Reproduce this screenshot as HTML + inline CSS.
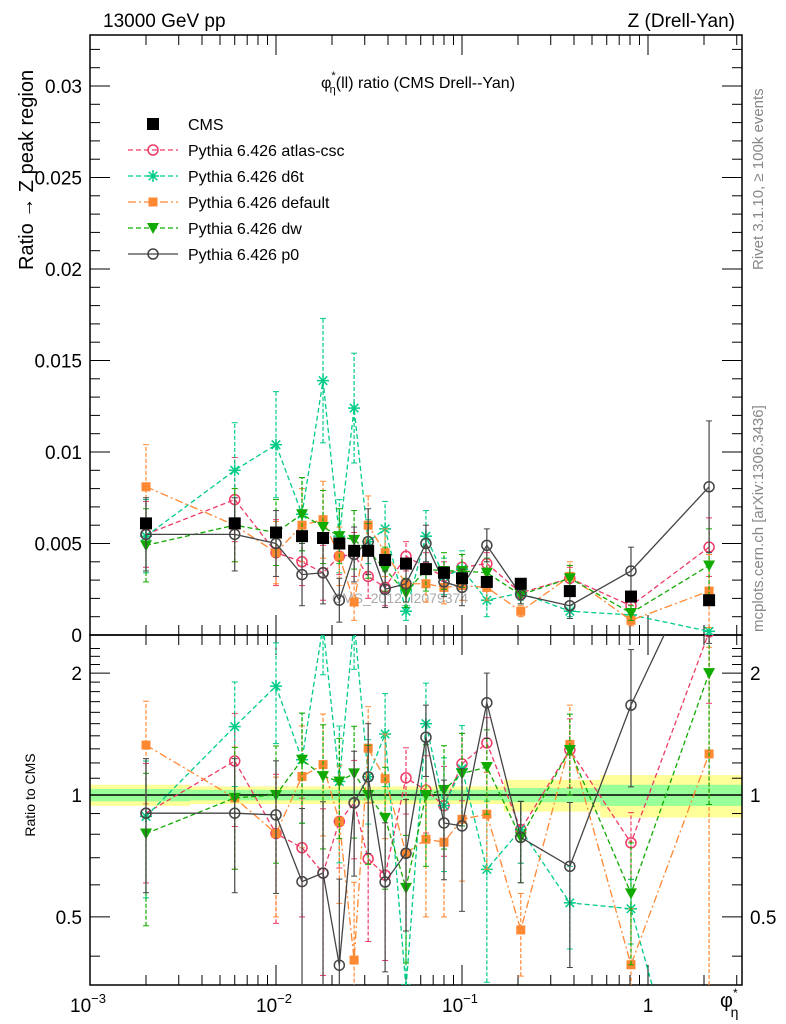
<!DOCTYPE html>
<html><head><meta charset="utf-8"><style>
html,body{margin:0;padding:0;background:#fff;overflow:hidden;width:786px;height:1024px}
svg{display:block}
svg text{font-family:"Liberation Sans",sans-serif}
</style></head><body>
<svg id="c" width="786" height="1024" xmlns="http://www.w3.org/2000/svg">
<defs>
<clipPath id="cm"><rect x="90" y="35" width="652" height="600"/></clipPath>
<clipPath id="cr"><rect x="90" y="635" width="652" height="350"/></clipPath>
</defs>
<text x="103" y="27" font-size="19">13000 GeV pp</text>
<text x="735" y="27" font-size="19" text-anchor="end">Z (Drell-Yan)</text>
<text x="418" y="88" font-size="16" text-anchor="middle">φ<tspan dy="-9" font-size="11">*</tspan><tspan dy="14" dx="-6" font-size="11">η</tspan><tspan dy="-5">(ll) ratio (CMS Drell--Yan)</tspan></text>
<text transform="translate(33,270) rotate(-90)" font-size="20">Ratio → Z peak region</text>
<text transform="translate(35,795) rotate(-90)" font-size="14" text-anchor="middle">Ratio to CMS</text>
<text transform="translate(763,270) rotate(-90)" font-size="15" fill="#888">Rivet 3.1.10, ≥ 100k events</text>
<text transform="translate(763,632) rotate(-90)" font-size="15" fill="#888">mcplots.cern.ch [arXiv:1306.3436]</text>
<text x="400" y="603" font-size="14" fill="#aaa" text-anchor="middle">CMS_2012_I2079374</text>
<text x="720" y="1007" font-size="20">φ<tspan dy="-10" font-size="12">*</tspan><tspan dy="20" dx="-7" font-size="14">η</tspan></text>
<g id="g"></g>
</svg>
<script>
const xs=[0.002,0.006,0.01,0.0138,0.0179,0.0219,0.0263,0.0313,0.0386,0.05,0.064,0.08,0.1,0.136,0.207,0.38,0.81,2.13];
const cms=[0.0061,0.0061,0.0056,0.0054,0.0053,0.0050,0.0046,0.0046,0.0041,0.0039,0.0036,0.0034,0.0031,0.0029,0.0028,0.0024,0.0021,0.0019];
const cmsErr=[0.0003,0.0003,0.0003,0.0003,0.0003,0.0003,0.0003,0.0003,0.0003,0.0003,0.0003,0.0003,0.0003,0.0002,0.0002,0.0002,0.0002,0.0003];
const bandStat=[0.035,0.03,0.03,0.03,0.03,0.03,0.03,0.03,0.03,0.03,0.03,0.03,0.03,0.03,0.04,0.04,0.06,0.06];
const bandTot=[0.06,0.05,0.05,0.05,0.05,0.05,0.05,0.05,0.05,0.05,0.05,0.05,0.05,0.05,0.09,0.09,0.12,0.12];
const atlas=[0.0055,0.0074,0.0045,0.0040,0.0034,0.0043,0.0044,0.0032,0.0026,0.0043,0.0037,0.0032,0.0037,0.0039,0.0023,0.0031,0.0016,0.0048];
const atlasErr=[0.0018,0.0023,0.0018,0.0013,0.0015,0.0010,0.0012,0.0012,0.0010,0.0008,0.0008,0.0008,0.0007,0.0006,0.0004,0.0006,0.0003,0.0016];
const d6t=[0.0054,0.0090,0.0104,0.0066,0.0139,0.0054,0.0124,0.0051,0.0058,0.0013,0.0054,0.0032,0.0036,0.0019,0.0023,0.0013,0.0011,0.0002];
const d6tErr=[0.0020,0.0026,0.0029,0.0020,0.0034,0.0020,0.0030,0.0012,0.0015,0.0005,0.0014,0.0010,0.0010,0.0009,0.0004,0.0003,0.0002,0.0002];
const dflt=[0.0081,0.0060,0.0045,0.0060,0.0063,0.0043,0.0018,0.0060,0.0045,0.0028,0.0028,0.0026,0.0027,0.0026,0.0013,0.0032,0.0008,0.0024];
const dfltErr=[0.0023,0.0020,0.0017,0.0020,0.0021,0.0016,0.0010,0.0016,0.0013,0.0010,0.0010,0.0009,0.0008,0.0007,0.0003,0.0008,0.0003,0.0020];
const dw=[0.0049,0.0060,0.0056,0.0066,0.0059,0.0054,0.0052,0.0046,0.0036,0.0023,0.0036,0.0035,0.0035,0.0034,0.0022,0.0031,0.0012,0.0038];
const dwErr=[0.0020,0.0020,0.0018,0.0020,0.0020,0.0015,0.0016,0.0015,0.0012,0.0008,0.0012,0.0010,0.0009,0.0008,0.0005,0.0007,0.0004,0.0020];
const p0=[0.0055,0.0055,0.0050,0.0033,0.0034,0.0019,0.0044,0.0051,0.0025,0.0028,0.0050,0.0029,0.0026,0.0049,0.0022,0.0016,0.0035,0.0081];
const p0Err=[0.0020,0.0020,0.0018,0.0017,0.0017,0.0012,0.0015,0.0018,0.0010,0.0010,0.0010,0.0008,0.0010,0.0009,0.0005,0.0007,0.0013,0.0036];
const yTicks=[0,0.005,0.01,0.015,0.02,0.025,0.03];
const yTickLabels=["0","0.005","0.01","0.015","0.02","0.025","0.03"];
const rTicks=[0.5,1,2];
const rTickLabels=["0.5","1","2"];

const NS="http://www.w3.org/2000/svg";
const G=document.getElementById('g');
const X=v=>90+(Math.log10(v)+3)*186;
const Y=v=>635-v*18300;
const R=v=>795-Math.log10(v)*405;
function el(t,a,p){const e=document.createElementNS(NS,t);for(const k in a)e.setAttribute(k,a[k]);(p||G).appendChild(e);return e;}

const bandG=el('g',{'clip-path':'url(#cr)'});


for(let i=0;i<xs.length;i++){
 const l=i==0?0.001:Math.sqrt(xs[i-1]*xs[i]);
 const r=i==xs.length-1?3.3:Math.sqrt(xs[i]*xs[i+1]);
 el('rect',{x:X(l),y:R(1+bandTot[i]),width:X(r)-X(l),height:R(1-bandTot[i])-R(1+bandTot[i]),fill:'#ffff99'},bandG);
 el('rect',{x:X(l),y:R(1+bandStat[i]),width:X(r)-X(l),height:R(1-bandStat[i])-R(1+bandStat[i]),fill:'#99ff99'},bandG);
}
el('line',{x1:90,x2:742,y1:R(1),y2:R(1),stroke:'#000','stroke-width':1.5});

el('rect',{x:90,y:35,width:652,height:600,fill:'none',stroke:'#000','stroke-width':1.5});
el('rect',{x:90,y:635,width:652,height:350,fill:'none',stroke:'#000','stroke-width':1.5});

for(let v=0;v<=0.0328;v+=0.001){
 const y=Y(v),maj=Math.abs(v/0.005-Math.round(v/0.005))<1e-6,L=maj?20:10;
 el('line',{x1:90,x2:90+L,y1:y,y2:y,stroke:'#000'});el('line',{x1:742-L,x2:742,y1:y,y2:y,stroke:'#000'});
}
yTicks.forEach((v,i)=>{const t=el('text',{x:82,y:Y(v)+7,'font-size':19,'text-anchor':'end'});t.textContent=yTickLabels[i];

});
for(let v=0.4;v<=2.4;v+=0.1){const y=R(v);const maj=rTicks.some(t=>Math.abs(t-v)<1e-6);const L=maj?20:10;
 el('line',{x1:90,x2:90+L,y1:y,y2:y,stroke:'#000'});el('line',{x1:742-L,x2:742,y1:y,y2:y,stroke:'#000'});}
rTicks.forEach((v,i)=>{const a=el('text',{x:82,y:R(v)+7,'font-size':19,'text-anchor':'end'});a.textContent=rTickLabels[i];


const b=el('text',{x:750,y:R(v)+7,'font-size':19});b.textContent=rTickLabels[i];

});
for(let d=-3;d<=0;d++)for(let m=1;m<=9;m++){const v=m*Math.pow(10,d);if(v>3.3)continue;const x=X(v),L=m==1?20:10;
 [[635,-1],[985,-1],[35,1],[635,1]].forEach(([y0,s])=>el('line',{x1:x,x2:x,y1:y0,y2:y0+s*L,stroke:'#000'}));}
[[-3,"10","−3"],[-2,"10","−2"],[-1,"10","−1"]].forEach(([d,b,e])=>{const t=el('text',{x:X(Math.pow(10,d))-2,y:1012,'font-size':19,'text-anchor':'middle'});
t.innerHTML=b+'<tspan dy="-9" font-size="13">'+e+'</tspan>';

});
{const t=el('text',{x:X(1),y:1012,'font-size':19,'text-anchor':'middle'});t.textContent='1';

}

function marker(g,type,x,y,c){
 if(type=='sq')el('rect',{x:x-6,y:y-6,width:12,height:12,fill:c},g);
 else if(type=='osq')el('rect',{x:x-4.5,y:y-4.5,width:9,height:9,fill:c},g);
 else if(type=='oc')el('circle',{cx:x,cy:y,r:5,fill:'none',stroke:c,'stroke-width':1.5},g);
 else if(type=='st'){for(let a=0;a<4;a++){const t=a*Math.PI/4;el('line',{x1:x-6*Math.cos(t),y1:y-6*Math.sin(t),x2:x+6*Math.cos(t),y2:y+6*Math.sin(t),stroke:c,'stroke-width':1.5},g);}}
 else if(type=='tri')el('polygon',{points:`${x-6},${y-5} ${x+6},${y-5} ${x},${y+6}`,fill:c},g);
}
const series=[
 {n:'atlas-csc',v:atlas,e:atlasErr,c:'#ee3a66',m:'oc',d:'5,3'},
 {n:'d6t',v:d6t,e:d6tErr,c:'#00cc88',m:'st',d:'5,3'},
 {n:'default',v:dflt,e:dfltErr,c:'#ff8833',m:'osq',d:'8,3,2,3'},
 {n:'dw',v:dw,e:dwErr,c:'#11aa00',m:'tri',d:'5,3'},
 {n:'p0',v:p0,e:p0Err,c:'#444',m:'oc',d:'none'}];
function draw(s,Yf,vals,errs,clip,tag){
 const g=el('g',{'clip-path':'url(#'+clip+')'});
 
 
 el('polyline',{points:xs.map((x,i)=>X(x)+','+Yf(vals[i])).join(' '),fill:'none',stroke:s.c,'stroke-width':1.3,'stroke-dasharray':s.d},g);
 xs.forEach((x,i)=>{const px=X(x),lo=Math.max(vals[i]-errs[i],1e-5),hi=vals[i]+errs[i];
  el('line',{x1:px,x2:px,y1:Yf(lo),y2:Yf(hi),stroke:s.c,'stroke-width':1.2,'stroke-dasharray':s.d=='none'?'none':'4,2'},g);
  el('line',{x1:px-3,x2:px+3,y1:Yf(lo),y2:Yf(lo),stroke:s.c},g);el('line',{x1:px-3,x2:px+3,y1:Yf(hi),y2:Yf(hi),stroke:s.c},g);
  marker(g,s.m,px,Yf(vals[i]),s.c);});
}
series.forEach(s=>{
 draw(s,Y,s.v,s.e,'cm','series');
 draw(s,R,s.v.map((v,i)=>v/cms[i]),s.e.map((e,i)=>e/cms[i]),'cr','ratio');
});
{const g=el('g',{'clip-path':'url(#cm)'});


xs.forEach((x,i)=>{const px=X(x);el('line',{x1:px,x2:px,y1:Y(cms[i]-cmsErr[i]),y2:Y(cms[i]+cmsErr[i]),stroke:'#000'},g);marker(g,'sq',px,Y(cms[i]),'#000');});}

const leg=[['CMS','#000','sq','none'],['Pythia 6.426 atlas-csc','#ee3a66','oc','5,3'],['Pythia 6.426 d6t','#00cc88','st','5,3'],['Pythia 6.426 default','#ff8833','osq','8,3,2,3'],['Pythia 6.426 dw','#11aa00','tri','5,3'],['Pythia 6.426 p0','#444','oc','none']];
leg.forEach((l,i)=>{const y=124+i*26;const g=el('g',{});
 
 
 if(i>0)el('line',{x1:128,x2:178,y1:y,y2:y,stroke:l[1],'stroke-width':1.3,'stroke-dasharray':l[3]},g);
 marker(g,l[2],153,y,l[1]);
 const t=el('text',{x:188,y:y+6,'font-size':16},g);t.textContent=l[0];});
</script>
</body></html>
